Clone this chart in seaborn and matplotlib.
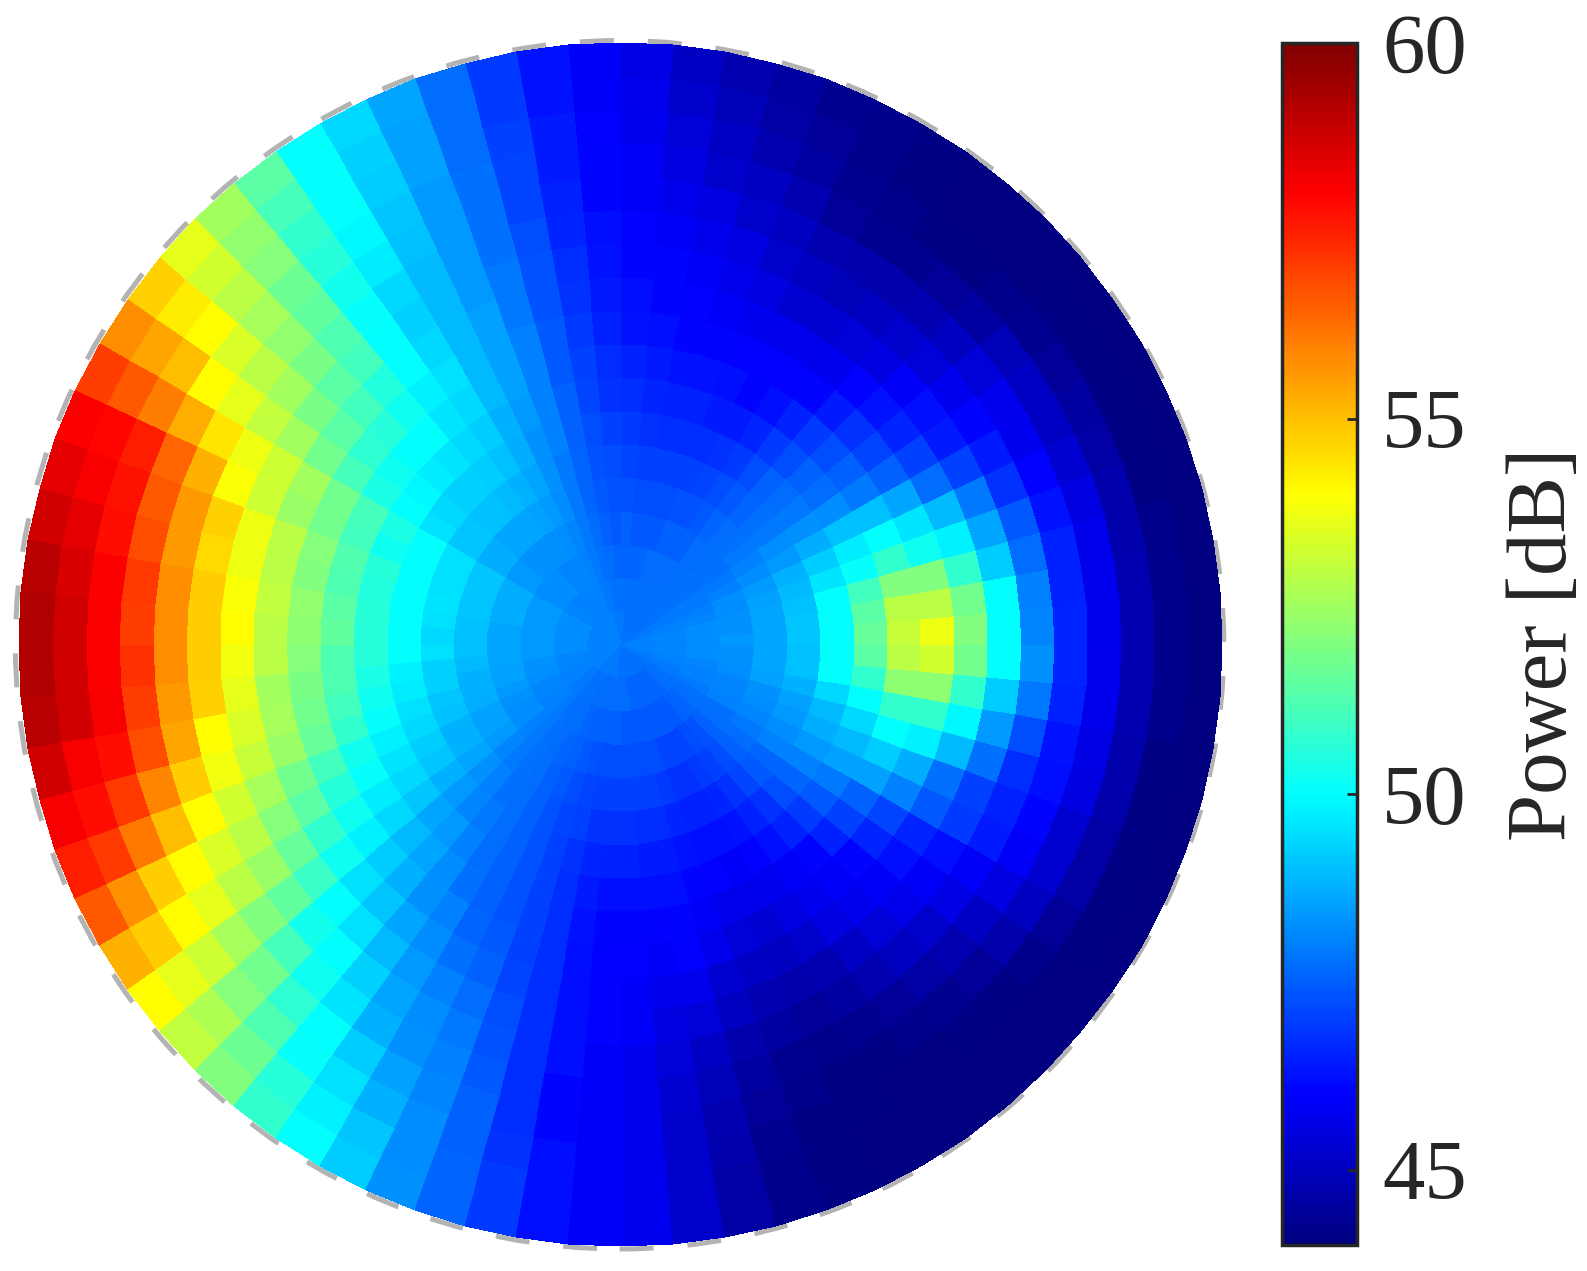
import numpy as np
import seaborn as sns
import matplotlib
matplotlib.use("Agg")
import matplotlib.pyplot as plt
from matplotlib.colors import LinearSegmentedColormap
from matplotlib.patches import Circle
from matplotlib.transforms import Transform

# each row is one 5 degree sector, values go from the outer ring to the centre
power_q1 = [
    [44,44.2,44.8,45.8,46.6,48.1,50,52,53.7,53.1,51.6,50,49.1,48.6,48.4,48.2,48.1,48],
    [44,44.2,44.8,45.7,46.5,48,50,51.8,52.9,52.9,51.4,50,49.1,48.6,48.3,48.2,48.1,48],
    [44,44.2,44.7,45.7,46.5,47.7,49.2,50.8,52,52,51,50,49,48.6,48.3,48.2,48.1,48],
    [44,44.1,44.7,45.5,46.3,47.4,48.6,49.8,50.2,50.8,50.1,49.6,48.9,48.5,48.2,48.1,48,48],
    [44,44.1,44.6,45.3,46,46.8,47.9,48.9,49.6,50,49.7,49.2,48.8,48.4,48.2,48,48,47.9],
    [44,44.1,44.5,45.1,45.8,46.4,47,47.7,48.6,49,49,48.7,48.4,48.2,48,47.9,47.9,47.9],
    [44,44.1,44.4,45.1,45.7,46.1,46.4,47,47.5,47.9,48.2,48.3,48.2,48,47.9,47.9,47.9,47.9],
    [44,44.1,44.3,44.9,45.4,45.8,46.2,46.6,47.1,47.5,47.7,47.9,47.9,47.9,47.8,47.8,47.8,47.8],
    [44,44,44.2,44.5,45,45.4,45.9,46.3,46.8,47.2,47.5,47.7,47.8,47.8,47.8,47.8,47.8,47.8],
    [44,44,44.1,44.4,44.8,45.2,45.5,46,46.4,46.9,47.2,47.5,47.6,47.7,47.7,47.8,47.8,47.8],
    [44,44,44.1,44.3,44.7,45,45.4,45.8,46.1,46.5,46.9,47.2,47.4,47.6,47.7,47.7,47.8,47.8],
    [44.1,44.1,44.2,44.3,44.7,44.9,45.3,45.7,46,46.2,46.6,46.9,47.2,47.4,47.5,47.7,47.8,47.8],
    [44.2,44.2,44.3,44.4,44.8,45,45.3,45.7,46,46.1,46.4,46.8,47.1,47.3,47.5,47.7,47.8,47.8],
    [44.3,44.4,44.5,44.8,45,45.2,45.5,45.8,46,46.2,46.4,46.7,47,47.3,47.5,47.7,47.8,47.8],
    [44.5,44.6,44.8,45,45.2,45.5,45.7,45.9,46.1,46.3,46.5,46.7,47,47.2,47.4,47.7,47.8,47.8],
    [44.8,44.9,45.1,45.2,45.5,45.7,45.9,46,46.1,46.3,46.5,46.7,47,47.2,47.4,47.6,47.8,47.8],
    [45.1,45.2,45.4,45.5,45.7,45.9,46.1,46.1,46.2,46.4,46.6,46.8,47,47.2,47.4,47.6,47.8,47.8],
    [45.6,45.7,45.8,45.9,45.9,46,46.1,46.2,46.3,46.5,46.7,46.9,47.1,47.3,47.5,47.6,47.8,47.9],
]
power_q2 = [
    [45.9,45.9,46,46.1,46.1,46.2,46.3,46.4,46.5,46.7,46.8,47,47.2,47.3,47.4,47.6,47.8,47.9],
    [46.3,46.3,46.4,46.4,46.5,46.6,46.7,46.8,46.9,47,47.1,47.2,47.3,47.4,47.5,47.7,47.8,47.9],
    [46.9,46.9,47,47.1,47.1,47.2,47.3,47.3,47.4,47.4,47.5,47.5,47.6,47.6,47.7,47.8,47.9,47.9],
    [47.7,47.7,47.7,47.8,47.8,47.8,47.9,47.9,48,48,48,48,47.9,47.9,47.9,47.9,47.9,48],
    [48.6,48.5,48.5,48.4,48.4,48.4,48.4,48.5,48.5,48.5,48.4,48.3,48.3,48.2,48.1,48,48,48],
    [49.4,49.3,49.2,49.1,49,48.9,48.9,48.9,48.9,48.9,48.8,48.7,48.6,48.4,48.2,48.1,48,48],
    [50,50,50,49.9,49.7,49.4,49.3,49.4,49.5,49.4,49.2,49,48.8,48.5,48.3,48.1,48,48],
    [51.4,51.1,50.8,50.6,50.3,50.1,50,50,49.8,49.6,49.4,49.2,48.9,48.6,48.3,48.1,48,48],
    [52.5,52.3,52.1,51.7,51.5,51.2,51,50.5,50.2,50,49.6,49.3,49,48.6,48.3,48.2,48,48],
    [53.6,53.3,52.9,52.6,52.3,51.9,51.4,51,50.6,50,49.7,49.3,49,48.6,48.3,48.2,48,48],
    [54.7,54.3,54,53.4,52.9,52.5,51.9,51.4,50.7,50.2,49.9,49.4,49.1,48.7,48.4,48.2,48.1,48],
    [55.8,55.4,55,54,53.6,53,52.5,51.8,51.1,50.4,50,49.5,49.1,48.7,48.4,48.2,48.1,48],
    [57,56.6,56,55.3,54.4,53.7,53.2,52.5,51.8,51.1,50.4,50,49.5,49.1,48.7,48.4,48.2,48],
    [58,57.9,57.5,56.4,55.2,53.9,53.2,52.4,51.8,51,50.2,50,49.5,49.1,48.7,48.4,48.2,48],
    [58.4,58.1,57.7,56.6,55.6,54.7,53.7,52.9,52.1,51.3,50.6,50,49.5,49.1,48.7,48.4,48.2,48],
    [58.7,58.4,57.8,56.8,55.6,54.6,53.7,52.9,52,51.2,50.5,50,49.6,49.1,48.7,48.4,48.2,48],
    [59.1,58.6,58,57.1,55.8,54.8,53.9,53,52.3,51.4,50.6,50,49.5,49,48.6,48.4,48.2,48],
    [59.2,58.7,58,57,55.8,54.8,54,52.9,52.2,51.5,50.6,50,49.4,49,48.6,48.4,48.2,48],
]
power_q3 = [
    [59.2,58.7,58,57.2,55.8,54.8,53.8,52.9,52.1,51.2,50.6,50,49.5,49,48.6,48.4,48.2,48],
    [59.1,58.7,58.1,57,55.6,54.7,53.6,52.5,51.9,51.2,50.4,49.8,49.3,48.9,48.6,48.4,48.2,48],
    [58.7,58.1,57.8,56.8,55.4,54,53.4,52.6,51.8,51,50.2,49.7,49.3,48.8,48.5,48.3,48.1,48],
    [58.1,57.8,57.1,55.9,54.8,53.8,53.1,52.4,51.6,50.8,50.1,49.5,49.1,48.8,48.5,48.3,48.1,48],
    [57.5,57.1,56.1,55,54,53.3,52.6,51.8,51,50.3,49.8,49.4,49,48.7,48.4,48.2,48.1,48],
    [56.6,55.7,54.8,54,53.4,52.9,52.1,51.4,50.6,50.1,49.6,49.2,48.8,48.5,48.3,48.1,48,48],
    [55.2,54.8,54,53.6,52.9,52.4,51.6,50.8,50.2,49.7,49.4,49.1,48.8,48.5,48.2,48.1,48,48],
    [54,53.6,53.2,52.6,52,51.5,50.9,50.2,49.8,49.4,49.1,48.8,48.6,48.4,48.2,48,48,48],
    [53,52.7,52.1,51.8,51.1,50.3,50,49.5,49.2,48.9,48.6,48.4,48.3,48.1,48,48,47.9,48],
    [52,51.7,51.2,50.7,50.2,50,49.5,49.1,48.8,48.6,48.4,48.1,48,47.9,47.9,47.9,47.9,48],
    [50.8,50.6,50.1,50,49.6,49.3,48.9,48.6,48.3,48.2,48,47.9,47.8,47.8,47.8,47.8,47.8,47.9],
    [50,49.8,49.5,49.2,48.8,48.6,48.4,48.2,48,47.8,47.7,47.7,47.7,47.7,47.7,47.7,47.8,47.9],
    [49.2,49.1,48.8,48.5,48.3,48.2,48,47.8,47.6,47.5,47.5,47.5,47.5,47.5,47.6,47.7,47.8,47.9],
    [48.3,48.2,48.2,48.1,48,47.9,47.7,47.5,47.4,47.3,47.3,47.3,47.3,47.4,47.5,47.6,47.7,47.9],
    [47.6,47.6,47.5,47.5,47.4,47.3,47.2,47.1,47,47,47,47,47.1,47.2,47.4,47.5,47.7,47.9],
    [46.9,46.9,46.8,46.7,46.7,46.7,46.7,46.7,46.7,46.7,46.7,46.8,47,47.1,47.3,47.5,47.7,47.9],
    [46.2,46.2,46.2,46.1,46.1,46.2,46.2,46.2,46.2,46.3,46.4,46.6,46.8,47,47.2,47.5,47.7,47.9],
    [45.9,45.9,45.9,45.9,45.9,45.9,46,46,46,46.1,46.2,46.5,46.8,47,47.2,47.5,47.7,47.8],
]
power_q4 = [
    [45.8,45.8,45.8,45.8,45.8,45.8,45.9,45.9,46,46.1,46.2,46.5,46.8,47,47.2,47.4,47.7,47.8],
    [45.2,45.2,45.2,45.2,45.3,45.4,45.5,45.7,45.9,46,46.2,46.4,46.7,47,47.2,47.4,47.7,47.8],
    [44.6,44.6,44.7,44.8,44.9,45.1,45.4,45.7,46,46.1,46.2,46.4,46.7,47,47.2,47.4,47.6,47.8],
    [44.2,44.2,44.3,44.4,44.5,44.7,45,45.3,45.7,45.9,46.1,46.3,46.6,46.9,47.2,47.4,47.6,47.8],
    [44.1,44.1,44.1,44.2,44.3,44.5,44.8,45.1,45.4,45.7,46,46.2,46.5,46.8,47.1,47.4,47.6,47.8],
    [44,44,44.1,44.1,44.2,44.4,44.7,45,45.3,45.7,45.9,46.2,46.5,46.8,47.1,47.4,47.6,47.8],
    [44,44,44,44.1,44.3,44.5,44.8,45.2,45.5,45.8,46,46.3,46.6,46.9,47.1,47.4,47.6,47.8],
    [44,44,44,44.2,44.4,44.8,45.1,45.5,45.8,45.9,46.2,46.5,46.8,47,47.2,47.4,47.6,47.8],
    [44,44,44.1,44.3,44.6,45,45.4,45.8,45.9,46.1,46.5,46.8,47.1,47.2,47.3,47.5,47.6,47.8],
    [44,44,44.1,44.4,44.8,45.2,45.7,45.9,46.1,46.5,46.9,47.2,47.4,47.5,47.5,47.6,47.7,47.8],
    [44,44,44.2,44.7,45.1,45.6,45.9,46.2,46.6,47,47.4,47.6,47.6,47.7,47.7,47.7,47.8,47.8],
    [44,44.1,44.4,45,45.5,45.9,46.2,46.6,47.1,47.5,47.9,48,48,47.9,47.8,47.8,47.8,47.8],
    [44,44.1,44.6,45.3,45.9,46.4,46.9,47.4,48,48.5,48.5,48.4,48.2,48.1,48,47.9,47.9,47.9],
    [44,44.1,44.6,45.3,46.1,46.5,47,47.8,48.7,49.2,48.9,48.7,48.4,48.2,48.1,48,47.9,47.9],
    [44,44.1,44.7,45.5,46.2,46.7,47.8,48.9,49.8,50,49.4,48.9,48.5,48.3,48.1,48,48,47.9],
    [44,44.1,44.7,45.6,46.3,47.2,48.4,49.9,50.8,50.8,50,49.4,48.8,48.5,48.2,48.1,48,48],
    [44,44.2,44.8,45.7,46.5,47.9,49.2,50.8,52.2,52.2,50.8,50,49,48.6,48.3,48.2,48.1,48],
    [44,44.2,44.8,45.7,46.6,48.3,50,51.8,53.3,52.9,51.4,50,49,48.6,48.3,48.2,48.1,48],
]
cbar_ticks = [45, 50, 55, 60]
jet_stops = ["#000080", "#0000ff", "#00ffff", "#80ff80", "#ffff00", "#ff8000", "#ff0000", "#800000"]
jet_positions = [0, 1 / 8, 3 / 8, 1 / 2, 5 / 8, 3 / 4, 7 / 8, 1]


class RingTransform(Transform):
    # heatmap column/row -> x, y on the disc
    input_dims = 2
    output_dims = 2

    def __init__(self, n_sectors):
        super().__init__()
        self.n_sectors = n_sectors

    def transform_non_affine(self, values):
        theta = values[:, 0] * 2 * np.pi / self.n_sectors
        return np.column_stack([values[:, 1] * np.cos(theta), values[:, 1] * np.sin(theta)])


sns.set_theme(style="white")
plt.rcParams["font.family"] = ["Liberation Serif", "DejaVu Serif"]

W, H = 1587, 1271
dark = "#262626"
power = np.array(power_q1 + power_q2 + power_q3 + power_q4).T[::-1]
jet = LinearSegmentedColormap.from_list("matlab_jet", list(zip(jet_positions, jet_stops)), N=256)

fig = plt.figure(figsize=(W / 100, H / 100), dpi=100)
rmax = 18.3
px = 33.42 * rmax
ax = fig.add_axes([(620.6 - px) / W, (H - 644.75 - px) / H, 2 * px / W, 2 * px / H])
cax = fig.add_axes([1281.7 / W, (H - 1245) / H, (1357 - 1281.7) / W, (1245 - 43) / H])

sns.heatmap(power, ax=ax, cbar_ax=cax, cmap=jet, vmin=44, vmax=60,
            xticklabels=False, yticklabels=False,
            cbar_kws={"ticks": cbar_ticks},
            transform=RingTransform(power.shape[1]) + ax.transData)
ax.set_xlim(-rmax, rmax)
ax.set_ylim(-rmax, rmax)
ax.set_aspect("equal")
ax.axis("off")

ax.add_patch(Circle((-0.03, 0), 18.08, fill=False, edgecolor="#b3b3b3", linewidth=3.6,
                    linestyle=(0, (6.8, 6.8)), zorder=0))

cbar = ax.collections[0].colorbar
cbar.outline.set_linewidth(2.5)
cbar.outline.set_edgecolor(dark)
cax.set_axisbelow(False)
cax.tick_params(axis="y", direction="in", length=7.2, width=2, color=dark, labelcolor=dark,
                labelsize=61, pad=18, right=True)
cax.set_ylabel("Power [dB]", fontsize=61, color=dark, labelpad=29)

fig.savefig("out.png", dpi=100)
